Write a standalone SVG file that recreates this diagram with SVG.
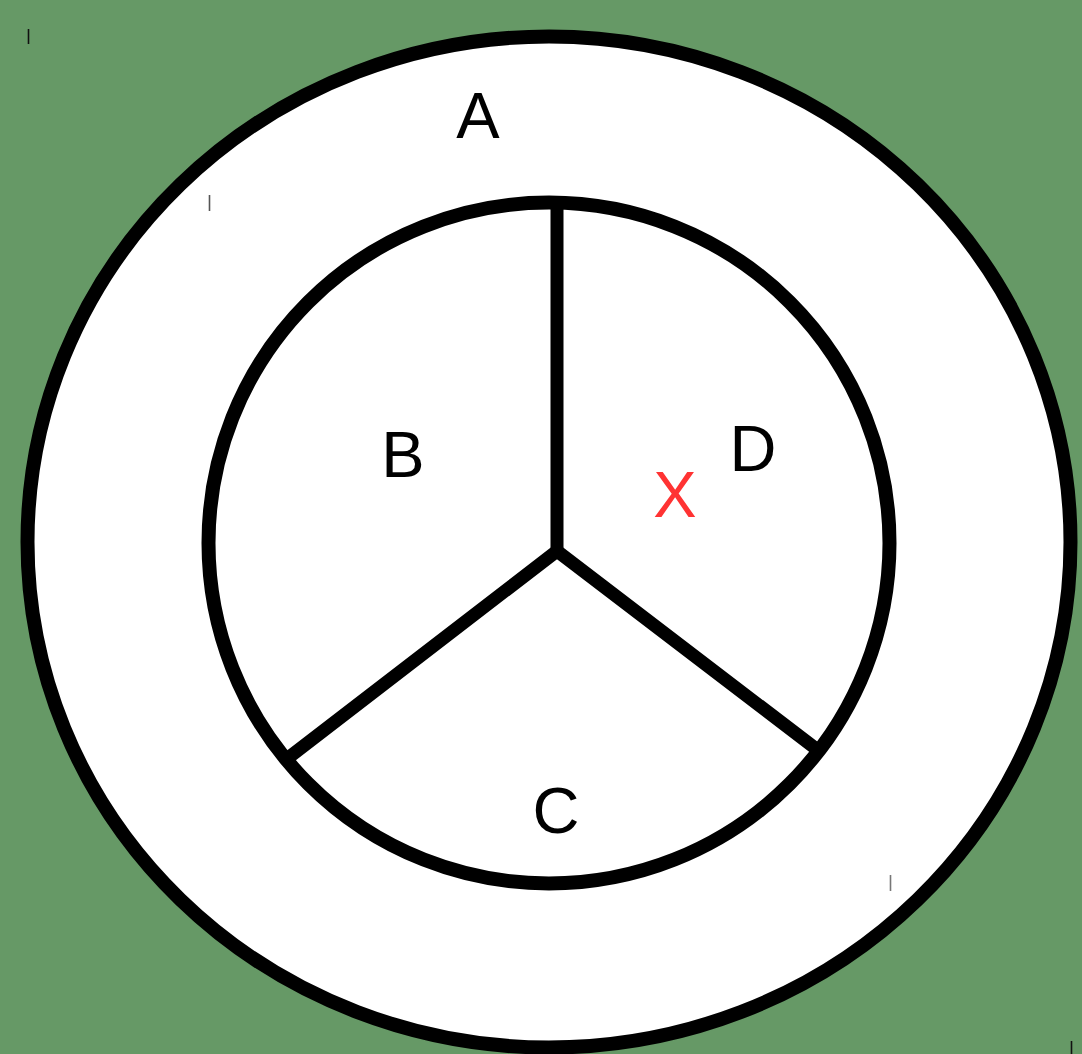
<svg xmlns="http://www.w3.org/2000/svg" width="1082" height="1054" viewBox="0 0 1082 1054">
<style>
.shape{fill:#fff;stroke:#000;stroke-width:14}
.edge{stroke:#000;stroke-width:13;fill:none}
.tick{stroke-width:1.6}
.lbl{font-family:"Liberation Sans",Arial,sans-serif;font-size:65px;text-anchor:middle}
</style>
<rect width="1082" height="1054" fill="#669966"/>
<g id="A">
<ellipse class="shape" cx="549" cy="542" rx="521.5" ry="505.5"/>
<text class="lbl" x="478" y="138">A</text>
</g>
<g id="inner">
<circle class="shape" cx="549" cy="543" r="340.5"/>
</g>
<g id="connectors">
<line class="edge" x1="557" y1="203" x2="557" y2="550"/>
<polyline class="edge" points="288,758 557,551 815,748" stroke-linejoin="bevel"/>
</g>
<g id="B"><text class="lbl" x="403" y="477">B</text></g>
<g id="D"><text class="lbl" x="753" y="471">D</text></g>
<g id="C"><text class="lbl" x="556" y="833">C</text></g>
<g id="X"><text class="lbl" x="675" y="517" fill="#ff3333">X</text></g>
<g id="ticks">
<line class="tick" x1="28.5" y1="29" x2="28.5" y2="44" stroke="#111"/>
<line class="tick" x1="209.5" y1="195" x2="209.5" y2="211" stroke="#555"/>
<line class="tick" x1="890.5" y1="875" x2="890.5" y2="891" stroke="#777"/>
<line class="tick" x1="1071.5" y1="1041" x2="1071.5" y2="1054" stroke="#111"/>
</g>
</svg>
